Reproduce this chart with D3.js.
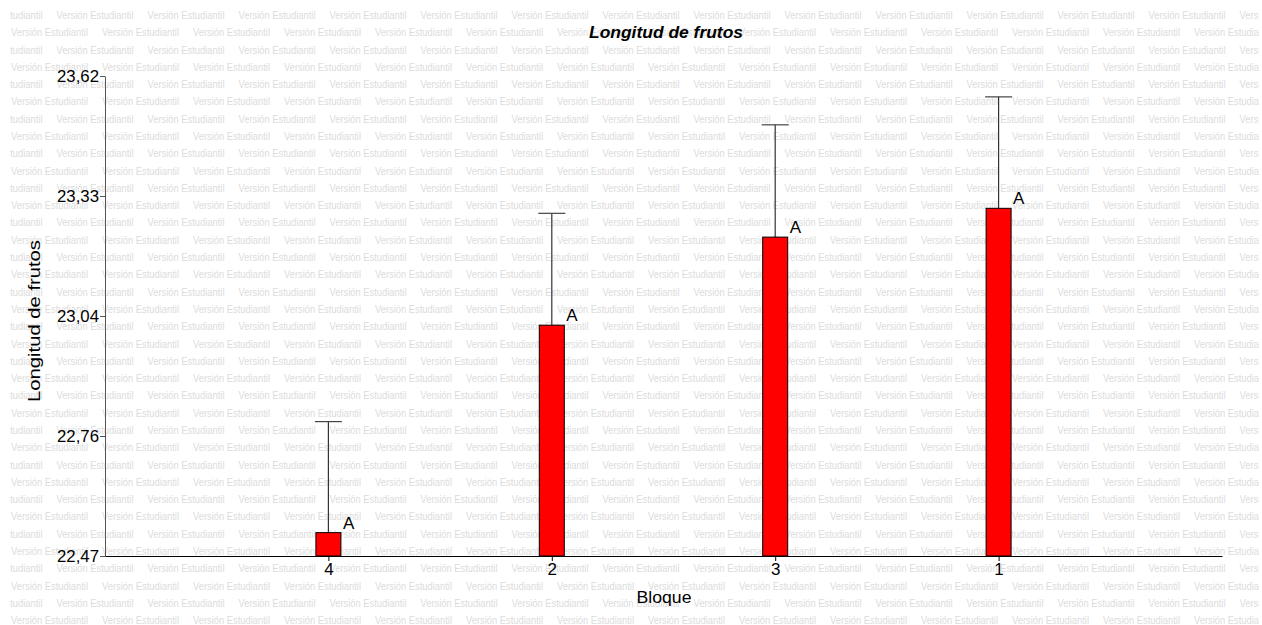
<!DOCTYPE html>
<html>
<head>
<meta charset="utf-8">
<script src="https://cdn.jsdelivr.net/npm/d3@7"></script>
<style>
  body { margin: 0; background: #fff; }
  svg { display: block; font-family: "Liberation Sans", Arial, sans-serif; }
</style>
</head>
<body>
<div id="chart"></div>
<script>
// data
const categories = ['4', '2', '3', '1'];
const means = [22.526, 23.023, 23.234, 23.303];
const errTops = [22.792, 23.291, 23.503, 23.570];
const letters = ['A', 'A', 'A', 'A'];
const yTickLabels = ['22,47', '22,76', '23,04', '23,33', '23,62'];

const width = 1262;
const height = 625;
const margin = { top: 76, right: 40, bottom: 69, left: 105 };
const fontFam = '"Liberation Sans", Arial, sans-serif';

const svg = d3.select('#chart')
  .append('svg')
  .attr('width', width)
  .attr('height', height)
  .attr('viewBox', `0 0 ${width} ${height}`);

// watermark of the student edition
svg.append('defs').append('clipPath')
  .attr('id', 'wmclip')
  .append('rect')
  .attr('x', 10).attr('y', 0)
  .attr('width', 1249).attr('height', height);

const wm = svg.append('g')
  .attr('clip-path', 'url(#wmclip)')
  .attr('fill', '#dcdcdc')
  .attr('font-size', '10px');
const rowStep = 17.29;
const colStep = 91;
for (let r = 0; r < 36; r++) {
  const yy = 15 + r * rowStep + 4;
  const x0 = r % 2 === 1 ? 11 : 11 - colStep / 2;
  for (let xx = x0 - colStep; xx < width; xx += colStep) {
    wm.append('text')
      .attr('x', xx)
      .attr('y', yy)
      .attr('textLength', 77)
      .attr('lengthAdjust', 'spacingAndGlyphs')
      .text('Versión Estudiantil');
  }
}

const x = d3.scalePoint()
  .domain(categories)
  .range([margin.left, width - margin.right])
  .padding(1);

const y = d3.scaleLinear()
  .domain([22.47, 23.62])
  .range([height - margin.bottom, margin.top]);

const yTicks = d3.range(5).map(i => 22.47 + i * (23.62 - 22.47) / 4);
const barW = 25;

// y axis
const yAxis = svg.append('g')
  .attr('transform', `translate(${margin.left},0)`)
  .call(d3.axisLeft(y).tickValues(yTicks).tickSize(5).tickSizeOuter(0)
    .tickFormat((d, i) => yTickLabels[i]));
yAxis.select('.domain').attr('stroke', '#555');
yAxis.selectAll('.tick line').attr('stroke', '#555');
yAxis.selectAll('.tick text')
  .attr('font-size', '16.5px')
  .attr('font-family', fontFam)
  .attr('fill', '#000')
  .attr('x', -6)
  .attr('dy', '0.35em')
  .attr('textLength', 42)
  .attr('lengthAdjust', 'spacingAndGlyphs');

// x axis
const xAxis = svg.append('g')
  .attr('transform', `translate(0,${height - margin.bottom})`)
  .call(d3.axisBottom(x).tickSize(5).tickSizeOuter(0));
xAxis.select('.domain').attr('stroke', '#000');
xAxis.selectAll('.tick line').attr('stroke', '#000');
xAxis.selectAll('.tick text')
  .attr('font-size', '17px')
  .attr('font-family', fontFam)
  .attr('fill', '#000')
  .attr('y', 7);

const rows = categories.map((c, i) => ({ c, m: means[i], e: errTops[i], l: letters[i] }));

// error bars
const err = svg.append('g').attr('stroke', '#333').attr('stroke-width', 1.2);
err.selectAll('line.v')
  .data(rows)
  .join('line')
  .attr('class', 'v')
  .attr('x1', d => x(d.c))
  .attr('x2', d => x(d.c))
  .attr('y1', d => y(d.m))
  .attr('y2', d => y(d.e));
err.selectAll('line.cap')
  .data(rows)
  .join('line')
  .attr('class', 'cap')
  .attr('stroke', '#444')
  .attr('x1', d => x(d.c) - barW / 2 - 1)
  .attr('x2', d => x(d.c) + barW / 2 + 1)
  .attr('y1', d => y(d.e))
  .attr('y2', d => y(d.e));

// bars
svg.append('g')
  .selectAll('rect')
  .data(rows)
  .join('rect')
  .attr('x', d => x(d.c) - barW / 2)
  .attr('y', d => y(d.m))
  .attr('width', barW)
  .attr('height', d => y(22.47) - y(d.m))
  .attr('fill', '#ff0000')
  .attr('stroke', '#000')
  .attr('stroke-width', 1);

// letters
svg.append('g')
  .selectAll('text')
  .data(rows)
  .join('text')
  .attr('x', d => x(d.c) + barW / 2 + 2)
  .attr('y', d => y(d.m) - 4)
  .attr('font-size', '17px')
  .attr('fill', '#000')
  .text(d => d.l);

// title and axis labels
svg.append('text')
  .attr('x', 666)
  .attr('y', 38)
  .attr('text-anchor', 'middle')
  .attr('font-size', '16.5px')
  .attr('font-weight', 'bold')
  .attr('font-style', 'italic')
  .attr('textLength', 154)
  .attr('lengthAdjust', 'spacingAndGlyphs')
  .text('Longitud de frutos');

svg.append('text')
  .attr('x', 664)
  .attr('y', 603)
  .attr('text-anchor', 'middle')
  .attr('font-size', '16.5px')
  .attr('textLength', 55)
  .attr('lengthAdjust', 'spacingAndGlyphs')
  .text('Bloque');

svg.append('text')
  .attr('transform', 'translate(40,321) rotate(-90)')
  .attr('text-anchor', 'middle')
  .attr('font-size', '16.5px')
  .attr('textLength', 162)
  .attr('lengthAdjust', 'spacingAndGlyphs')
  .text('Longitud de frutos');
</script>
</body>
</html>
